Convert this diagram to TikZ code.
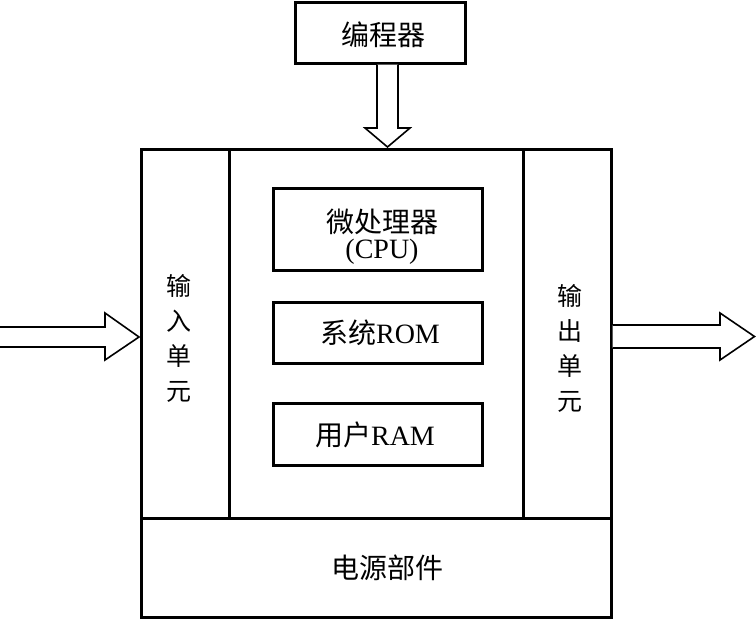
\documentclass[tikz,border=0pt]{standalone}
\usepackage{fontspec}
\setmainfont{Liberation Serif}
\newfontfamily\cjk{Noto Sans CJK SC}
\usetikzlibrary{calc}
\begin{document}
\begin{tikzpicture}[x=1pt,y=-1pt,
  blk/.style={draw, line width=3pt, inner sep=0pt, outer sep=0pt},
  lbl/.style={font=\fontsize{28}{26}\selectfont, align=center, inner sep=0pt},
  vlbl/.style={font=\cjk\fontsize{25}{35}\selectfont, align=center, inner sep=0pt},
  harrow/.style={draw, line width=1.6pt, line join=miter, fill=white}]
\useasboundingbox (0,0) rectangle (756,619);
% frame
\node[blk, minimum width=470pt, minimum height=468pt] (outer) at (376,383) {};
\node[blk, minimum width=88pt, minimum height=369pt] (inp) at (185,333.5) {};
\node[blk, minimum width=88pt, minimum height=369pt] (outp) at (567,333.5) {};
\node[blk, minimum width=294pt, minimum height=369pt] (mid) at (376,333.5) {};
\node[blk, minimum width=470pt, minimum height=99pt] (pwr) at (376,567.5) {};
\node[lbl] (pwrt) at (387,568) {\cjk 电源部件};
% programmer
\node[blk, minimum width=170pt, minimum height=61pt] (prog) at (380,32.5) {};
\node[lbl] (progt) at (383,35) {\cjk 编程器};
% inner boxes
\node[blk, minimum width=209pt, minimum height=82pt] (cpu) at (377.5,229) {};
\node[lbl] (cput) at (382,237) {{\cjk 微处理器}\\(CPU)};
\node[blk, minimum width=209pt, minimum height=61pt] (rom) at (377.5,332.5) {};
\node[lbl] (romt) at (380,333) {{\cjk 系统}ROM};
\node[blk, minimum width=209pt, minimum height=62pt] (ram) at (377.5,434) {};
\node[lbl] (ramt) at (375,435) {{\cjk 用户}RAM};
% vertical labels
\node[vlbl] (inpt) at (179,338) {输\\入\\单\\元};
\node[vlbl] (outpt) at (570,348) {输\\出\\单\\元};
% arrows
\draw[harrow] (377,64.5) -- (377,128) -- (365,128) -- (387.5,147) -- (410,128) -- (398,128) -- (398,64.5);
\draw[harrow] (0,327) -- (105,327) -- (105,313) -- (139,337) -- (105,360) -- (105,347) -- (0,347);
\draw[harrow] (612.5,325) -- (720,325) -- (720,313) -- (754.5,336.5) -- (720,360) -- (720,348) -- (612.5,348);
\end{tikzpicture}
\end{document}
